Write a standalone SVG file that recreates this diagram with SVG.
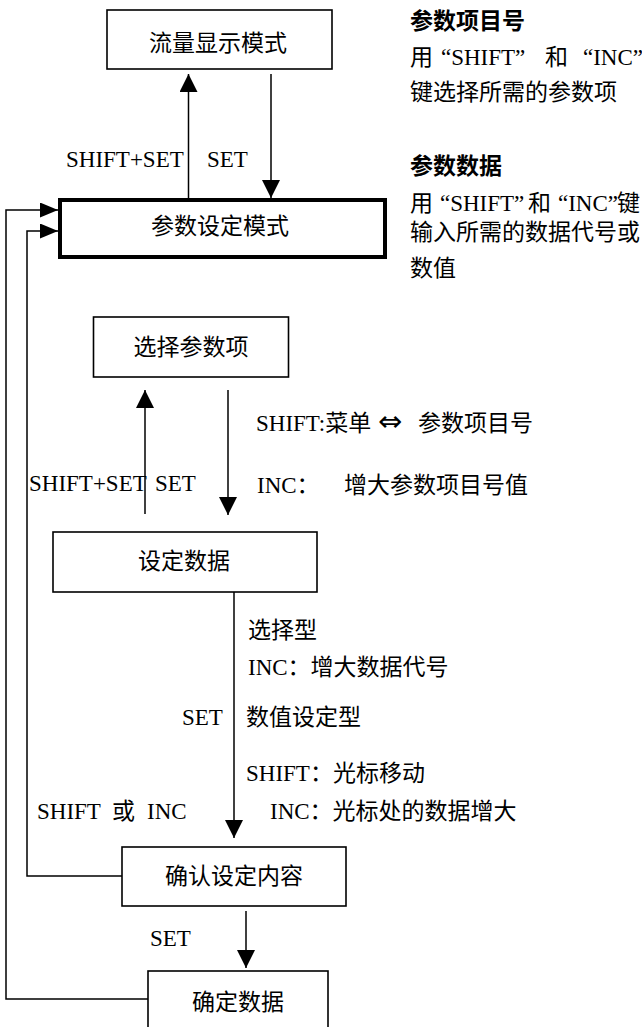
<svg xmlns="http://www.w3.org/2000/svg" width="642" height="1027" viewBox="0 0 642 1027">
<defs>
<style>
text { font-family: "Liberation Serif", "Noto Sans CJK SC", serif; font-size: 23px; fill: #000; }
.b { font-weight: bold; }
.c { text-anchor: middle; }
.sym { font-family: "DejaVu Sans", sans-serif; font-size: 29px; }
.box { fill: #fff; stroke: #000; stroke-width: 1.6; }
.thick { fill: #fff; stroke: #000; stroke-width: 4; }
.ln { fill: none; stroke: #000; stroke-width: 1.5; }
.a { marker-end: url(#ah); }
.as { marker-end: url(#ahs); }
</style>
<marker id="ah" viewBox="0 0 10 10" refX="10" refY="5" markerUnits="userSpaceOnUse" markerWidth="18" markerHeight="18" orient="auto" preserveAspectRatio="none"><path d="M0,0 L10,5 L0,10 z" fill="#000"/></marker>
<marker id="ahs" viewBox="0 0 10 10" refX="10" refY="5" markerUnits="userSpaceOnUse" markerWidth="18" markerHeight="15" orient="auto" preserveAspectRatio="none"><path d="M0,0 L10,5 L0,10 z" fill="#000"/></marker>
</defs>
<rect x="0" y="0" width="642" height="1027" fill="#fff"/>

<g id="connectors">
  <path class="ln a" d="M188.5,198 V74"/>
  <path class="ln a" d="M271,74 V198"/>
  <path class="ln as" d="M148,999 H6 V210 H58"/>
  <path class="ln as" d="M122,876 H27 V231 H58"/>
  <path class="ln a" d="M145,514 V390"/>
  <path class="ln a" d="M228,390 V515"/>
  <path class="ln a" d="M234,592 V838"/>
  <path class="ln a" d="M246,911 V968"/>
</g>

<g id="node-flow">
  <rect class="box" x="107" y="10" width="225" height="59"/>
  <text class="c" x="218" y="51">流量显示模式</text>
</g>
<g id="node-param">
  <rect class="thick" x="60" y="200" width="325" height="57"/>
  <text class="c" x="220" y="234">参数设定模式</text>
</g>
<g id="node-select">
  <rect class="box" x="93.5" y="317" width="195" height="60"/>
  <text class="c" x="191" y="355">选择参数项</text>
</g>
<g id="node-setdata">
  <rect class="box" x="53" y="532" width="264" height="60"/>
  <text class="c" x="184" y="569">设定数据</text>
</g>
<g id="node-confirm">
  <rect class="box" x="122" y="847" width="224" height="59"/>
  <text class="c" x="234" y="884">确认设定内容</text>
</g>
<g id="node-fix">
  <rect class="box" x="148" y="971" width="180" height="70"/>
  <text class="c" x="238" y="1010">确定数据</text>
</g>

<g id="labels">
  <text x="66" y="167">SHIFT+SET</text>
  <text x="207" y="167">SET</text>
  <text x="29" y="491">SHIFT+SET</text>
  <text x="155" y="491">SET</text>
  <text x="256" y="431">SHIFT:菜单<tspan class="sym" x="378">⇔</tspan> <tspan x="418">参数项目号</tspan></text>
  <text x="257" y="493">INC： <tspan x="344">增大参数项目号值</tspan></text>
  <text x="248" y="638">选择型</text>
  <text x="248" y="675">INC：增大数据代号</text>
  <text x="182" y="725">SET</text>
  <text x="246" y="725">数值设定型</text>
  <text x="246" y="781">SHIFT：光标移动</text>
  <text x="37" y="819">SHIFT <tspan x="112">或</tspan> <tspan x="147">INC</tspan></text>
  <text x="270" y="819">INC：光标处的数据增大</text>
  <text x="150" y="946">SET</text>
</g>

<g id="notes">
  <text class="b" x="410" y="29">参数项目号</text>
  <text x="410" y="65">用 <tspan x="441">“SHIFT”</tspan> <tspan x="545">和</tspan> <tspan x="583">“INC”</tspan></text>
  <text x="410" y="100">键选择所需的参数项</text>
  <text class="b" x="410" y="174">参数数据</text>
  <text x="410" y="211">用<tspan x="440">“SHIFT”</tspan><tspan x="528">和</tspan><tspan x="558">“INC”</tspan><tspan x="617">键</tspan></text>
  <text x="410" y="240">输入所需的数据代号或</text>
  <text x="410" y="276">数值</text>
</g>
</svg>
